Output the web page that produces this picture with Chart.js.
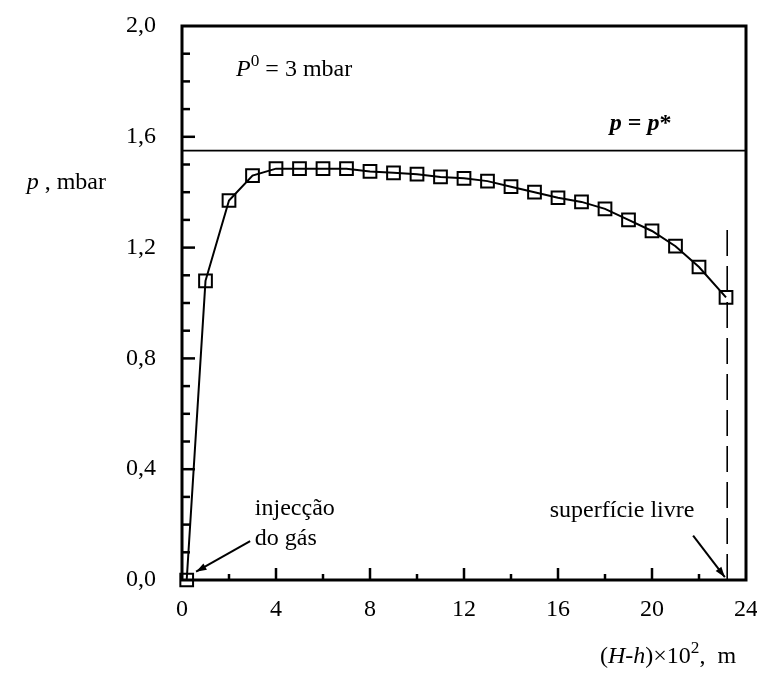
<!DOCTYPE html>
<html>
<head>
<meta charset="utf-8">
<script src="https://cdn.jsdelivr.net/npm/chart.js@4.4.0/dist/chart.umd.min.js"></script>
<style>
  html, body { margin: 0; padding: 0; background: #fff; }
</style>
</head>
<body>
<canvas id="myChart" width="757" height="676"></canvas>
<script>
// distance from the gas injection, (H-h)x10^2 m
var depth = [0.2, 1, 2, 3, 4, 5, 6, 7, 8, 9, 10, 11, 12, 13, 14, 15, 16, 17, 18, 19, 20, 21, 22, 23.15];
// pressure p, mbar
var pressure = [0.0, 1.08, 1.37, 1.46, 1.485, 1.485, 1.485, 1.485, 1.475, 1.47, 1.465, 1.455, 1.45,
                1.44, 1.42, 1.40, 1.38, 1.365, 1.34, 1.30, 1.26, 1.205, 1.13, 1.02];
// saturation pressure p*
var pStar = 1.55;
// free surface position and the top of its dashed marker
var freeSurface = 23.2;
var freeSurfaceTop = 1.27;

var xTicks = [0, 4, 8, 12, 16, 20, 24];
var yTicks = [0, 0.4, 0.8, 1.2, 1.6, 2.0];

var serif = "'Liberation Serif', 'DejaVu Serif', serif";

function toPoints(xs, ys) {
    var pts = [];
    for (var i = 0; i < xs.length; i++) {
        pts.push({ x: xs[i], y: ys[i] });
    }
    return pts;
}

/// parts = [{t, italic, bold, sup}], drawn left to right from (x, y)
function drawRich(ctx, parts, x, y, size) {
    var cx = x;
    parts.forEach(function (p) {
        var s = p.sup ? size * 0.72 : size;
        ctx.font = (p.italic ? "italic " : "") + (p.bold ? "bold " : "") + s + "px " + serif;
        ctx.fillText(p.t, cx, p.sup ? y - size * 0.4 : y);
        cx += ctx.measureText(p.t).width;
    });
    return cx - x;
}

function measureRich(ctx, parts, size) {
    var w = 0;
    parts.forEach(function (p) {
        var s = p.sup ? size * 0.72 : size;
        ctx.font = (p.italic ? "italic " : "") + (p.bold ? "bold " : "") + s + "px " + serif;
        w += ctx.measureText(p.t).width;
    });
    return w;
}

function arrow(ctx, x1, y1, x2, y2) {
    ctx.beginPath();
    ctx.moveTo(x1, y1);
    ctx.lineTo(x2, y2);
    ctx.stroke();
    var a = Math.atan2(y2 - y1, x2 - x1);
    var L = 11, W = 0.33;
    ctx.beginPath();
    ctx.moveTo(x2, y2);
    ctx.lineTo(x2 - L * Math.cos(a - W), y2 - L * Math.sin(a - W));
    ctx.lineTo(x2 - L * Math.cos(a + W), y2 - L * Math.sin(a + W));
    ctx.closePath();
    ctx.fill();
}

const frameAndTicks = {
    id: "frameAndTicks",
    afterDatasetsDraw(chart) {
        const ctx = chart.ctx;
        const a = chart.chartArea;
        const xs = chart.scales.x, ys = chart.scales.y;
        ctx.save();
        ctx.strokeStyle = "#000";
        ctx.fillStyle = "#000";

        // frame
        ctx.lineWidth = 3;
        ctx.strokeRect(a.left, a.top, a.right - a.left, a.bottom - a.top);

        // inward ticks
        ctx.lineWidth = 2.5;
        for (var k = 1; k < 20; k++) {
            var py = ys.getPixelForValue(k / 10);
            ctx.beginPath();
            ctx.moveTo(a.left, py);
            ctx.lineTo(a.left + (k % 4 === 0 ? 13 : 8), py);
            ctx.stroke();
        }
        for (var u = 2; u < 24; u += 2) {
            var px = xs.getPixelForValue(u);
            ctx.beginPath();
            ctx.moveTo(px, a.bottom);
            ctx.lineTo(px, a.bottom - (u % 4 === 0 ? 12 : 6));
            ctx.stroke();
        }

        // annotations
        ctx.textBaseline = "alphabetic";
        ctx.textAlign = "left";
        drawRich(ctx, [{ t: "P", italic: true }, { t: "0", sup: true }, { t: " = 3 mbar" }],
            xs.getPixelForValue(2.3), ys.getPixelForValue(1.82), 24);
        drawRich(ctx, [{ t: "p", italic: true, bold: true }, { t: " = ", bold: true },
            { t: "p", italic: true, bold: true }, { t: "*", bold: true }],
            xs.getPixelForValue(18.2), ys.getPixelForValue(1.625), 24);

        ctx.font = "24px " + serif;
        ctx.fillText("injecção", xs.getPixelForValue(3.1), ys.getPixelForValue(0.235));
        ctx.fillText("do gás", xs.getPixelForValue(3.1), ys.getPixelForValue(0.125));
        ctx.fillText("superfície livre", xs.getPixelForValue(15.65), ys.getPixelForValue(0.228));

        ctx.lineWidth = 2;
        arrow(ctx, xs.getPixelForValue(2.9), ys.getPixelForValue(0.14),
            xs.getPixelForValue(0.6), ys.getPixelForValue(0.03));
        arrow(ctx, xs.getPixelForValue(21.75), ys.getPixelForValue(0.16),
            xs.getPixelForValue(23.1), ys.getPixelForValue(0.01));

        // axis titles
        var yTitle = [{ t: "p", italic: true }, { t: " , mbar" }];
        var yw = measureRich(ctx, yTitle, 24);
        drawRich(ctx, yTitle, a.left - 76 - yw, ys.getPixelForValue(1.41), 24);

        drawRich(ctx, [{ t: "(" }, { t: "H", italic: true }, { t: "-" }, { t: "h", italic: true },
            { t: ")×10" }, { t: "2", sup: true }, { t: ",  m" }], 600, a.bottom + 83, 24);
        ctx.restore();
    }
};

const data = {
    datasets: [
        {
            label: "p",
            data: toPoints(depth, pressure),
            showLine: true,
            clip: 12,
            borderColor: "#000",
            borderWidth: 2,
            pointStyle: "rect",
            pointRadius: 9,
            pointBorderWidth: 2,
            pointBorderColor: "#000",
            pointBackgroundColor: "rgba(255,255,255,0)",
            tension: 0
        },
        {
            label: "p*",
            data: toPoints([0, 24], [pStar, pStar]),
            showLine: true,
            borderColor: "#000",
            borderWidth: 1.6,
            pointRadius: 0
        },
        {
            label: "free surface",
            data: toPoints([freeSurface, freeSurface], [0, freeSurfaceTop]),
            showLine: true,
            borderColor: "#000",
            borderWidth: 1.6,
            borderDash: [26, 10],
            pointRadius: 0
        }
    ]
};

const config = {
    type: "scatter",
    data: data,
    options: {
        responsive: false,
        animation: false,
        layout: { padding: { top: 26, right: 10, left: 0, bottom: 0 } },
        plugins: {
            legend: { display: false },
            tooltip: { enabled: false }
        },
        scales: {
            x: {
                type: "linear",
                min: 0,
                max: 24,
                afterBuildTicks: function (s) { s.ticks = xTicks.map(function (v) { return { value: v }; }); },
                afterFit: function (s) { s.height = 96; s.paddingLeft = 0; s.paddingRight = 0; },
                grid: { display: false, drawTicks: false },
                border: { display: false },
                ticks: {
                    padding: 15,
                    maxRotation: 0,
                    color: "#000",
                    font: { family: serif, size: 24 }
                }
            },
            y: {
                type: "linear",
                min: 0,
                max: 2,
                afterBuildTicks: function (s) { s.ticks = yTicks.map(function (v) { return { value: v }; }); },
                afterFit: function (s) { s.width = 182; s.paddingTop = 0; s.paddingBottom = 0; },
                grid: { display: false, drawTicks: false },
                border: { display: false },
                ticks: {
                    padding: 26,
                    color: "#000",
                    font: { family: serif, size: 24 },
                    callback: function (v) { return v.toFixed(1).replace(".", ","); }
                }
            }
        }
    },
    plugins: [frameAndTicks]
};

new Chart(document.getElementById("myChart"), config);
</script>
</body>
</html>
